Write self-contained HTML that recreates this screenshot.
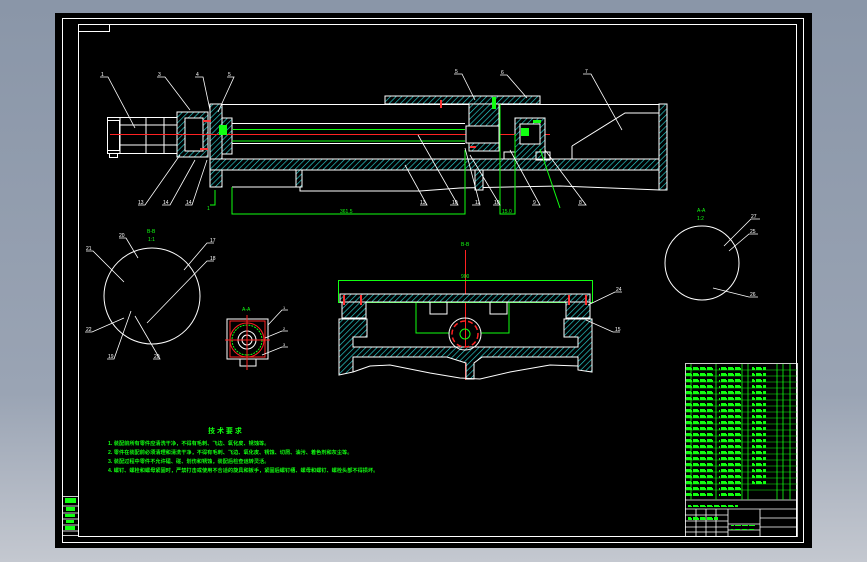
<!DOCTYPE html>
<html><head><meta charset="utf-8"><style>
html,body{margin:0;padding:0;width:867px;height:562px;overflow:hidden;background:linear-gradient(#8a96a8,#9aa4b4 70%,#c4c8d0);}
svg{display:block}
text{font-family:"Liberation Sans","Noto Sans CJK SC",sans-serif;}
</style></head><body>
<svg width="867" height="562" viewBox="0 0 867 562" xmlns="http://www.w3.org/2000/svg">
<defs>
<pattern id="h" width="4" height="4" patternUnits="userSpaceOnUse" patternTransform="rotate(45)">
<rect width="4" height="4" fill="#000"/><line x1="0" y1="0" x2="0" y2="4" stroke="#2ad4d4" stroke-width="1.3"/>
</pattern>
<pattern id="tx" width="7" height="6" patternUnits="userSpaceOnUse">
<rect x="0" y="1" width="5" height="3" fill="#1f1"/><rect x="5" y="2" width="1" height="2" fill="#1f1"/>
</pattern>
</defs>
<rect x="55" y="13" width="757" height="535" fill="#000"/>
<g fill="none" stroke="#fff" stroke-width="1">
<rect x="62.5" y="18.5" width="741" height="524"/>
<rect x="78.5" y="24.5" width="718" height="512"/>
<rect x="78.5" y="24.5" width="31" height="7"/>
</g>
<g stroke="#fff" fill="none" stroke-width="0.8">
<rect x="62.5" y="496.5" width="16" height="39"/>
<line x1="62" y1="506" x2="78" y2="506"/><line x1="62" y1="513" x2="78" y2="513"/>
<line x1="62" y1="519" x2="78" y2="519"/><line x1="62" y1="525" x2="78" y2="525"/><line x1="62" y1="531" x2="78" y2="531"/>
</g>
<g fill="#1f1">
<rect x="65" y="498" width="11" height="5"/><rect x="66" y="507" width="9" height="4"/><rect x="65" y="514" width="10" height="3"/><rect x="66" y="520" width="8" height="3"/><rect x="65" y="526" width="10" height="4"/>
</g>

<g stroke="#fff" fill="none" stroke-width="1">
<rect x="107.5" y="117.5" width="70" height="36"/>
<rect x="107.5" y="120.5" width="12" height="30"/>
<line x1="120" y1="117" x2="120" y2="153"/><line x1="146" y1="117" x2="146" y2="153"/><line x1="164" y1="117" x2="164" y2="153"/>
<line x1="120" y1="125" x2="177" y2="125"/><line x1="120" y1="145" x2="177" y2="145"/>
<rect x="109.5" y="153.5" width="8" height="4"/>
</g>
<rect x="177" y="112" width="31" height="45" fill="url(#h)" stroke="#fff"/>
<rect x="185" y="118" width="18" height="33" fill="#000" stroke="#fff"/>
<rect x="210" y="104" width="12" height="83" fill="url(#h)" stroke="#fff"/>
<rect x="222" y="118" width="10" height="36" fill="url(#h)" stroke="#fff"/>
<g stroke="#fff" fill="none">
<line x1="222" y1="104.5" x2="667" y2="104.5"/>
<line x1="232" y1="123.5" x2="465" y2="123.5"/>
<line x1="232" y1="143.5" x2="465" y2="143.5"/>
<polyline points="232,187 300,187 300,191 420,191 460,188 560,186 660,190"/>
<line x1="222" y1="170" x2="222" y2="187"/>
<line x1="572" y1="159" x2="572" y2="146"/>
<polyline points="572,146 625,113 660,113"/>
</g>
<line x1="232" y1="129.5" x2="465" y2="129.5" stroke="#1f1"/>
<line x1="232" y1="141" x2="465" y2="141" stroke="#1f1"/>
<line x1="110" y1="134.5" x2="550" y2="134.5" stroke="#f22"/>
<rect x="385" y="96" width="155" height="8" fill="url(#h)" stroke="#fff"/>
<rect x="210" y="159" width="450" height="11" fill="url(#h)" stroke="#fff"/>
<rect x="659" y="104" width="8" height="86" fill="url(#h)" stroke="#fff"/>
<rect x="296" y="170" width="6" height="17" fill="url(#h)" stroke="#fff"/>
<rect x="475" y="170" width="8" height="20" fill="url(#h)" stroke="#fff"/>
<rect x="469" y="104" width="30" height="22" fill="url(#h)" stroke="#fff"/>
<rect x="469" y="143" width="30" height="8" fill="url(#h)" stroke="#fff"/>
<rect x="466" y="126" width="33" height="17" fill="#000" stroke="#fff"/>
<rect x="504" y="152" width="18" height="7" fill="none" stroke="#fff"/>
<rect x="515" y="118" width="30" height="41" fill="url(#h)" stroke="#fff"/>
<rect x="520" y="124" width="20" height="20" fill="#000" stroke="#fff"/>
<rect x="536" y="152" width="14" height="8" fill="none" stroke="#fff"/>
<g fill="#1f1"><rect x="521" y="128" width="8" height="8"/><rect x="492" y="97" width="4" height="12"/><rect x="219" y="125" width="8" height="10"/><rect x="533" y="120" width="8" height="3"/></g>
<g fill="#f33"><rect x="203" y="120" width="8" height="2"/><rect x="200" y="148" width="8" height="2"/><rect x="470" y="146" width="6" height="2"/><rect x="440" y="100" width="2" height="8"/></g>
<g stroke="#1f1" fill="none">
<polyline points="232,187 232,214 465,214 465,150"/>
<polyline points="500,104 500,214 515,214 515,134"/>
<polyline points="215,190 215,205 210,205"/>
<line x1="540" y1="149" x2="560" y2="208"/>
</g>
<g fill="#1f1" font-size="5"><text x="340" y="213">361.5</text><text x="502" y="213">15.0</text><text x="207" y="210">1</text></g>
<g stroke="#fff" stroke-width="0.8" fill="none">
<polyline points="100,77 108,77 135,128"/><polyline points="157,77 165,77 190,110"/>
<polyline points="195,77 203,77 210,110"/><polyline points="227,77 234,77 218,112"/>
<polyline points="138,205 145,205 180,155"/><polyline points="162,205 170,205 195,160"/><polyline points="185,205 192,205 207,160"/>
<polyline points="454,74 462,74 475,100"/><polyline points="500,75 507,75 527,98"/><polyline points="583,74 591,74 622,130"/>
<polyline points="420,205 427,205 405,165"/><polyline points="450,205 458,205 418,135"/><polyline points="472,205 480,205 465,148"/>
<polyline points="493,205 500,205 470,155"/><polyline points="532,205 540,205 510,150"/><polyline points="578,205 586,205 545,150"/>
</g>
<g fill="#fff" font-size="5">
<text x="101" y="76">1</text><text x="158" y="76">3</text><text x="196" y="76">4</text><text x="228" y="76">5</text>
<text x="138" y="204">13</text><text x="163" y="204">14</text><text x="186" y="204">14</text>
<text x="455" y="73">5</text><text x="501" y="74">6</text><text x="585" y="73">7</text>
<text x="420" y="204">13</text><text x="452" y="204">10</text><text x="475" y="204">11</text><text x="494" y="204">10</text><text x="533" y="204">9</text><text x="579" y="204">8</text>
</g>

<circle cx="152" cy="296" r="48" fill="none" stroke="#fff"/>
<g fill="#1f1" font-size="5"><text x="147" y="233">B-B</text><text x="148" y="241">1:1</text></g>
<g stroke="#fff" stroke-width="0.8" fill="none">
<polyline points="86,251 93,251 124,282"/><polyline points="119,238 126,238 138,258"/>
<polyline points="214,243 207,243 184,270"/><polyline points="214,261 207,261 147,323"/>
<polyline points="85,332 92,332 124,318"/><polyline points="107,359 114,359 131,311"/><polyline points="153,359 160,359 135,316"/>
</g>
<g fill="#fff" font-size="5"><text x="86" y="250">21</text><text x="119" y="237">20</text><text x="210" y="242">17</text><text x="210" y="260">18</text><text x="86" y="331">22</text><text x="108" y="358">19</text><text x="154" y="358">20</text></g>
<rect x="227" y="319" width="41" height="40" fill="none" stroke="#fff"/>
<rect x="230" y="321" width="35" height="36" fill="none" stroke="#f22"/>
<rect x="240" y="359" width="16" height="7" fill="none" stroke="#fff"/>
<circle cx="247" cy="340" r="17" fill="none" stroke="#f22"/>
<circle cx="247" cy="340" r="15" fill="none" stroke="#1f1" stroke-dasharray="2 1"/>
<circle cx="247" cy="340" r="9" fill="none" stroke="#fff"/><circle cx="247" cy="340" r="5" fill="none" stroke="#fff"/>
<line x1="225" y1="340" x2="270" y2="340" stroke="#f22"/><line x1="247" y1="315" x2="247" y2="370" stroke="#f22"/>
<text x="242" y="311" fill="#1f1" font-size="5">A-A</text>
<g stroke="#fff" stroke-width="0.8" fill="none"><polyline points="288,310 282,310 268,325"/><polyline points="288,331 282,331 265,338"/><polyline points="288,347 282,347 262,355"/></g>
<g fill="#fff" font-size="4"><text x="283" y="309">1</text><text x="283" y="330">2</text><text x="283" y="346">3</text></g>

<text x="461" y="246" fill="#1f1" font-size="5">B-B</text>
<line x1="465.5" y1="250" x2="465.5" y2="380" stroke="#f22"/>
<rect x="338.5" y="280.5" width="254" height="22" fill="none" stroke="#1f1"/>
<text x="461" y="278" fill="#1f1" font-size="5">900</text>
<rect x="340" y="294" width="250" height="8" fill="url(#h)" stroke="#fff"/>
<path d="M342,302 H366 V318 H342 Z" fill="url(#h)" stroke="#fff"/>
<path d="M566,302 H590 V318 H566 Z" fill="url(#h)" stroke="#fff"/>
<path d="M339,319 H367 V337 H353 V347 H578 V337 H564 V319 H592 V372 L578,370 V357 H482 L474,363 V379 H466 V363 L447,357 H353 V372 L339,375 Z" fill="url(#h)" stroke="#fff"/>
<polyline points="353,372 370,366 390,365 430,373 460,378 480,379 510,372 550,365 578,366" fill="none" stroke="#fff"/>
<g stroke="#1f1" fill="none"><polyline points="416,303 416,333 449,333"/><polyline points="509,303 509,333 481,333"/></g>
<rect x="430" y="302" width="17" height="12" fill="none" stroke="#fff"/>
<rect x="490" y="302" width="17" height="12" fill="none" stroke="#fff"/>
<circle cx="465" cy="334" r="16" fill="none" stroke="#fff"/>
<circle cx="465" cy="334" r="13" fill="none" stroke="#f22" stroke-width="1.5" stroke-dasharray="5 3"/>
<circle cx="465" cy="334" r="5" fill="none" stroke="#1f1"/>
<g fill="#f33"><rect x="343" y="295" width="2" height="10"/><rect x="360" y="295" width="2" height="10"/><rect x="568" y="295" width="2" height="10"/><rect x="585" y="295" width="2" height="10"/></g>
<g stroke="#fff" stroke-width="0.8" fill="none"><polyline points="622,292 615,292 588,305"/><polyline points="620,332 613,332 586,320"/></g>
<g fill="#fff" font-size="5"><text x="616" y="291">24</text><text x="615" y="331">15</text></g>

<circle cx="702" cy="263" r="37" fill="none" stroke="#fff"/>
<g fill="#1f1" font-size="5"><text x="697" y="212">A-A</text><text x="697" y="220">1:2</text></g>
<g stroke="#fff" stroke-width="0.8" fill="none"><polyline points="760,219 751,219 724,246"/><polyline points="758,234 749,234 729,251"/><polyline points="758,297 749,297 713,288"/></g>
<g fill="#fff" font-size="5"><text x="751" y="218">27</text><text x="750" y="233">25</text><text x="750" y="296">26</text></g>

<g fill="#1f1" font-size="5.2" font-weight="bold">
<text x="208" y="433" font-size="7">技 术 要 求</text>
<text x="108" y="445">1. 装配前所有零件应清洗干净，不得有毛刺、飞边、氧化皮、锈蚀等。</text>
<text x="108" y="454">2. 零件在装配前必须清理和清洗干净，不得有毛刺、飞边、氧化皮、锈蚀、切屑、油污、着色剂和灰尘等。</text>
<text x="108" y="463">3. 装配过程中零件不允许磕、碰、划伤和锈蚀，装配后检查运转灵活。</text>
<text x="108" y="472">4. 螺钉、螺栓和螺母紧固时，严禁打击或使用不合适的旋具和扳手，紧固后螺钉槽、螺母和螺钉、螺栓头部不得损坏。</text>
</g>

<g stroke="#fff" fill="none" stroke-width="0.8">
<rect x="685.5" y="363.5" width="112" height="173"/>
<line x1="685" y1="500" x2="797" y2="500"/><line x1="685" y1="509" x2="797" y2="509"/>
<line x1="728" y1="509" x2="728" y2="537"/><line x1="760" y1="509" x2="760" y2="537"/>
<line x1="760" y1="518" x2="797" y2="518"/><line x1="760" y1="527" x2="797" y2="527"/>
<line x1="685" y1="515" x2="728" y2="515"/><line x1="685" y1="521" x2="728" y2="521"/><line x1="685" y1="527" x2="728" y2="527"/><line x1="685" y1="532" x2="728" y2="532"/>
<line x1="728" y1="524" x2="760" y2="524"/><line x1="728" y1="530" x2="760" y2="530"/>
<line x1="696" y1="509" x2="696" y2="537"/><line x1="706" y1="509" x2="706" y2="537"/><line x1="716" y1="509" x2="716" y2="537"/>
</g>
<g stroke="#1f1" fill="none" stroke-width="0.8">
<line x1="691" y1="364" x2="691" y2="500"/><line x1="716" y1="364" x2="716" y2="500"/><line x1="742" y1="364" x2="742" y2="500"/>
<line x1="748" y1="364" x2="748" y2="500"/><line x1="777" y1="364" x2="777" y2="500"/><line x1="783" y1="364" x2="783" y2="500"/><line x1="790" y1="364" x2="790" y2="500"/>
</g>
<g stroke="#1f1" stroke-width="0.6">
<line x1="685" y1="370" x2="797" y2="370"/><line x1="685" y1="376" x2="797" y2="376"/><line x1="685" y1="382" x2="797" y2="382"/><line x1="685" y1="388" x2="797" y2="388"/>
<line x1="685" y1="394" x2="797" y2="394"/><line x1="685" y1="400" x2="797" y2="400"/><line x1="685" y1="406" x2="797" y2="406"/><line x1="685" y1="412" x2="797" y2="412"/>
<line x1="685" y1="418" x2="797" y2="418"/><line x1="685" y1="424" x2="797" y2="424"/><line x1="685" y1="430" x2="797" y2="430"/><line x1="685" y1="436" x2="797" y2="436"/>
<line x1="685" y1="442" x2="797" y2="442"/><line x1="685" y1="448" x2="797" y2="448"/><line x1="685" y1="454" x2="797" y2="454"/><line x1="685" y1="460" x2="797" y2="460"/>
<line x1="685" y1="466" x2="797" y2="466"/><line x1="685" y1="472" x2="797" y2="472"/><line x1="685" y1="478" x2="797" y2="478"/><line x1="685" y1="484" x2="797" y2="484"/>
<line x1="685" y1="490" x2="797" y2="490"/>
</g>
<g>
<rect x="686" y="365" width="28" height="134" fill="url(#tx)"/>
<rect x="719" y="365" width="22" height="134" fill="url(#tx)"/>
<rect x="752" y="365" width="14" height="120" fill="url(#tx)"/>
<rect x="688" y="502" width="50" height="5" fill="url(#tx)"/>
<rect x="688" y="516" width="30" height="4" fill="url(#tx)"/>
<rect x="731" y="525" width="25" height="5" fill="url(#tx)"/>
</g>
</svg>
</body></html>
